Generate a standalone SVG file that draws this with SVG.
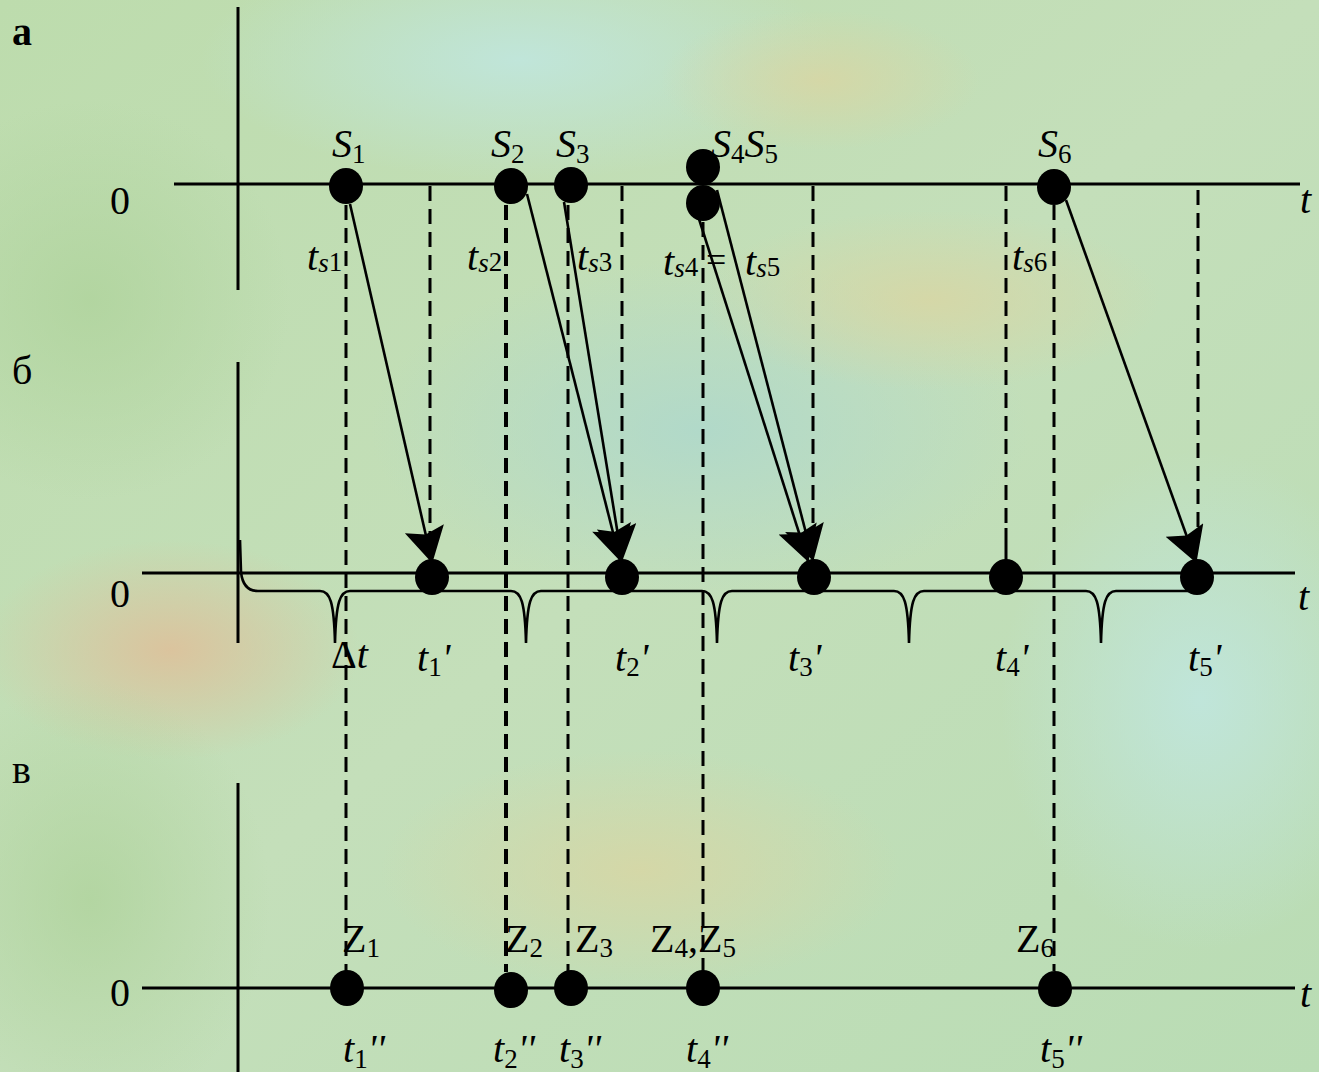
<svg xmlns="http://www.w3.org/2000/svg" width="1319" height="1072" viewBox="0 0 1319 1072">
<style>
.ax{stroke:#000;stroke-width:3;fill:none}
.pulse{stroke:#000;stroke-width:2.6;fill:none}
.dash{stroke:#000;stroke-width:3;stroke-dasharray:15 8;fill:none}
.dashb{stroke:#000;stroke-width:4;stroke-dasharray:15 8;fill:none}
.arr{stroke:#000;stroke-width:2.6;fill:none;marker-end:url(#ah)}
.dot{fill:#000}
text{font-family:'Liberation Serif','DejaVu Serif','Noto Serif',serif;fill:#000}
.it{font-style:italic}
.big{font-size:40px}
.sub{font-size:27px;font-style:normal}
.lab{font-size:40px}
</style>
<defs>
<marker id="ah" markerUnits="userSpaceOnUse" markerWidth="40" markerHeight="40" viewBox="0 0 30 34" refX="29" refY="17" orient="auto">
<path d="M0,0 L30,17 L0,34 L5,17 z" fill="#000"/>
</marker>
<linearGradient id="bg" x1="0" y1="0" x2="1" y2="1">
<stop offset="0" stop-color="#bddcad"/>
<stop offset="0.5" stop-color="#c4dfba"/>
<stop offset="1" stop-color="#b9dcb4"/>
</linearGradient>
<radialGradient id="cy"><stop offset="0" stop-color="#c0e6de" stop-opacity="0.9"/><stop offset="1" stop-color="#c0e6de" stop-opacity="0"/></radialGradient>
<radialGradient id="cy2"><stop offset="0" stop-color="#aed8cc" stop-opacity="0.85"/><stop offset="1" stop-color="#aed8cc" stop-opacity="0"/></radialGradient>
<radialGradient id="tan"><stop offset="0" stop-color="#dcc29c" stop-opacity="0.95"/><stop offset="1" stop-color="#dcc29c" stop-opacity="0"/></radialGradient>
<radialGradient id="tan2"><stop offset="0" stop-color="#d8d6a4" stop-opacity="0.85"/><stop offset="1" stop-color="#d8d6a4" stop-opacity="0"/></radialGradient>
<radialGradient id="gr"><stop offset="0" stop-color="#afd39c" stop-opacity="0.8"/><stop offset="1" stop-color="#afd39c" stop-opacity="0"/></radialGradient>
</defs>
<g id="background">
<rect width="1319" height="1072" fill="url(#bg)"/>
<ellipse cx="520" cy="60" rx="320" ry="120" fill="url(#cy)"/>
<ellipse cx="700" cy="430" rx="330" ry="170" fill="url(#cy2)"/>
<ellipse cx="1200" cy="700" rx="200" ry="250" fill="url(#cy)"/>
<ellipse cx="170" cy="650" rx="190" ry="110" fill="url(#tan)"/>
<ellipse cx="930" cy="300" rx="230" ry="90" fill="url(#tan2)"/>
<ellipse cx="820" cy="80" rx="160" ry="70" fill="url(#tan2)"/>
<ellipse cx="640" cy="870" rx="260" ry="120" fill="url(#tan2)"/>
<ellipse cx="90" cy="300" rx="200" ry="200" fill="url(#gr)"/>
<ellipse cx="90" cy="900" rx="180" ry="220" fill="url(#gr)"/>
</g>
<g id="panel-labels">
<text x="12" y="45" class="lab" font-weight="bold">а</text>
<text x="12" y="384" class="lab">б</text>
<text x="12" y="783" class="lab">в</text>
</g>
<g id="axes">
<line class="ax" x1="238" y1="7" x2="238" y2="290"/>
<line class="ax" x1="174" y1="184" x2="1300" y2="184"/>
<text x="110" y="214" class="big">0</text>
<text x="1300" y="213" class="big it">t</text>
<line class="ax" x1="238" y1="362" x2="238" y2="643"/>
<line class="ax" x1="142" y1="573" x2="1295" y2="573"/>
<text x="110" y="607" class="big">0</text>
<text x="1298" y="610" class="big it">t</text>
<line class="ax" x1="238" y1="783" x2="238" y2="1072"/>
<line class="ax" x1="142" y1="988" x2="1295" y2="988"/>
<text x="110" y="1006" class="big">0</text>
<text x="1300" y="1007" class="big it">t</text>
</g>
<g id="pulse-train">
<path class="pulse" d="M240 540 L241 572 Q243 591 258 591 L320 591 C330 591 334 602 335 643 C336 602 340 591 350 591 L511 591 C521 591 525 602 526 643 C527 602 531 591 541 591 L702 591 C712 591 716 602 717 643 C718 602 722 591 732 591 L894 591 C904 591 908 602 909 643 C910 602 914 591 924 591 L1086 591 C1096 591 1100 602 1101 643 C1102 602 1106 591 1116 591 L1205 591"/>
</g>
<g id="connectors">
<line class="dash" x1="346" y1="205" x2="346" y2="971"/>
<line class="dashb" x1="506" y1="205" x2="506" y2="972"/>
<line class="dash" x1="568" y1="205" x2="568" y2="971"/>
<line class="dash" x1="703" y1="222" x2="703" y2="971"/>
<line class="dash" x1="1054" y1="205" x2="1054" y2="971"/>
<line class="dash" x1="430" y1="186" x2="430" y2="540"/>
<line class="dash" x1="622" y1="186" x2="622" y2="540"/>
<line class="dash" x1="813" y1="186" x2="813" y2="540"/>
<line class="dash" x1="1006" y1="186" x2="1006" y2="524"/>
<line class="ax" x1="1006" y1="528" x2="1006" y2="565"/>
<line class="dash" x1="1198" y1="190" x2="1198" y2="540"/>
<line class="arr" x1="350" y1="204" x2="432" y2="562"/>
<line class="arr" x1="527" y1="194" x2="620" y2="560"/>
<line class="arr" x1="564" y1="202" x2="622" y2="560"/>
<line class="arr" x1="699" y1="219" x2="808" y2="561"/>
<line class="arr" x1="717" y1="190" x2="813" y2="560"/>
<line class="arr" x1="1066" y1="200" x2="1196" y2="562"/>
</g>
<g id="S1"><ellipse class="dot" cx="346" cy="186" rx="17" ry="18"/><text x="332" y="157" class="big it">S<tspan class="sub" dy="6">1</tspan></text><text x="307" y="270" class="big it">t<tspan class="sub" style="font-style:italic" dy="2">s</tspan><tspan class="sub" dy="-1">1</tspan></text></g>
<g id="S2"><ellipse class="dot" cx="511" cy="186" rx="17" ry="18"/><text x="491" y="157" class="big it">S<tspan class="sub" dy="6">2</tspan></text><text x="467" y="270" class="big it">t<tspan class="sub" style="font-style:italic" dy="2">s</tspan><tspan class="sub" dy="-1">2</tspan></text></g>
<g id="S3"><ellipse class="dot" cx="571" cy="185" rx="17" ry="18"/><text x="556" y="157" class="big it">S<tspan class="sub" dy="6">3</tspan></text><text x="577" y="270" class="big it">t<tspan class="sub" style="font-style:italic" dy="2">s</tspan><tspan class="sub" dy="-1">3</tspan></text></g>
<g id="S4S5"><ellipse class="dot" cx="703" cy="167" rx="17" ry="18"/><ellipse class="dot" cx="703" cy="203" rx="17" ry="18"/><text x="711" y="157" class="big it">S<tspan class="sub" dy="6">4</tspan><tspan dy="-6">S</tspan><tspan class="sub" dy="6">5</tspan></text><text x="663" y="275" class="big it">t<tspan class="sub" style="font-style:italic" dy="2">s</tspan><tspan class="sub" dy="-1">4</tspan></text><text x="706" y="272" font-size="36">=</text><text x="745" y="275" class="big it">t<tspan class="sub" style="font-style:italic" dy="2">s</tspan><tspan class="sub" dy="-1">5</tspan></text></g>
<g id="S6"><ellipse class="dot" cx="1054" cy="187" rx="17" ry="18"/><text x="1038" y="157" class="big it">S<tspan class="sub" dy="6">6</tspan></text><text x="1012" y="270" class="big it">t<tspan class="sub" style="font-style:italic" dy="2">s</tspan><tspan class="sub" dy="-1">6</tspan></text></g>
<g id="t1p"><ellipse class="dot" cx="432" cy="577" rx="17" ry="18"/><text x="417" y="671" class="big it">t<tspan class="sub" dy="5">1</tspan><tspan dy="-5">'</tspan></text></g>
<g id="t2p"><ellipse class="dot" cx="622" cy="577" rx="17" ry="18"/><text x="615" y="671" class="big it">t<tspan class="sub" dy="5">2</tspan><tspan dy="-5">'</tspan></text></g>
<g id="t3p"><ellipse class="dot" cx="814" cy="577" rx="17" ry="18"/><text x="788" y="671" class="big it">t<tspan class="sub" dy="5">3</tspan><tspan dy="-5">'</tspan></text></g>
<g id="t4p"><ellipse class="dot" cx="1006" cy="577" rx="17" ry="18"/><text x="995" y="671" class="big it">t<tspan class="sub" dy="5">4</tspan><tspan dy="-5">'</tspan></text></g>
<g id="t5p"><ellipse class="dot" cx="1197" cy="577" rx="17" ry="18"/><text x="1188" y="671" class="big it">t<tspan class="sub" dy="5">5</tspan><tspan dy="-5">'</tspan></text></g>
<g id="dt"><text x="331" y="668" class="big">Δ<tspan class="it">t</tspan></text></g>
<g id="Z1"><ellipse class="dot" cx="347" cy="988" rx="17" ry="18"/><text x="342" y="952" class="big">Z<tspan class="sub" dy="5">1</tspan></text><text x="343" y="1062" class="big it">t<tspan class="sub" dy="6">1</tspan><tspan dy="-6">''</tspan></text></g>
<g id="Z2"><ellipse class="dot" cx="511" cy="990" rx="17" ry="18"/><text x="505" y="952" class="big">Z<tspan class="sub" dy="5">2</tspan></text><text x="493" y="1062" class="big it">t<tspan class="sub" dy="6">2</tspan><tspan dy="-6">''</tspan></text></g>
<g id="Z3"><ellipse class="dot" cx="571" cy="988" rx="17" ry="18"/><text x="575" y="952" class="big">Z<tspan class="sub" dy="5">3</tspan></text><text x="559" y="1062" class="big it">t<tspan class="sub" dy="6">3</tspan><tspan dy="-6">''</tspan></text></g>
<g id="Z4Z5"><ellipse class="dot" cx="703" cy="988" rx="17" ry="18"/><text x="650" y="952" class="big">Z<tspan class="sub" dy="5">4</tspan><tspan dy="-5">,Z</tspan><tspan class="sub" dy="5">5</tspan></text><text x="686" y="1062" class="big it">t<tspan class="sub" dy="6">4</tspan><tspan dy="-6">''</tspan></text></g>
<g id="Z6"><ellipse class="dot" cx="1055" cy="989" rx="17" ry="18"/><text x="1016" y="952" class="big">Z<tspan class="sub" dy="5">6</tspan></text><text x="1040" y="1062" class="big it">t<tspan class="sub" dy="6">5</tspan><tspan dy="-6">''</tspan></text></g>
</svg>
